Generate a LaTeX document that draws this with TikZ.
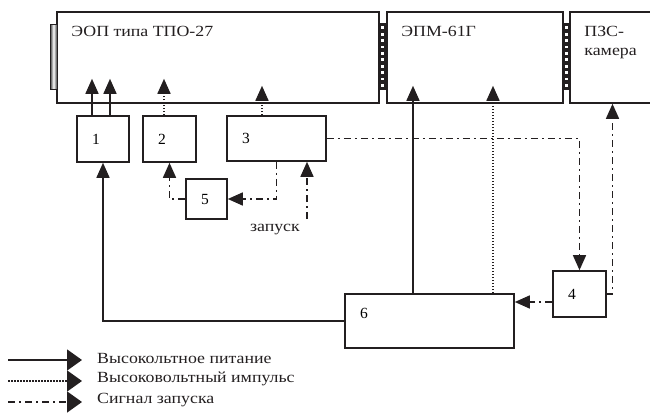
\documentclass[tikz,border=0pt]{standalone}
\usepackage{fontspec}
\setmainfont{Liberation Serif}
\usepackage{tikz}
\usetikzlibrary{arrows.meta,positioning,calc}
\definecolor{Ink}{RGB}{35,31,32}
\definecolor{WinD}{RGB}{60,60,60}

\begin{document}
\begin{tikzpicture}[x=1pt,y=-1pt,
    blk/.style={draw=Ink,line width=1.6pt,inner xsep=15pt,inner ysep=0pt,align=left},
    txt/.style={inner sep=0pt,text=Ink,xscale=1.15},
    pwr/.style={draw=Ink,line width=1.5pt},
    pls/.style={draw=Ink,line width=1.7pt,dash pattern=on 1.5pt off 1.5pt},
    sig/.style={draw=Ink,line width=1.5pt,dash pattern=on 7pt off 4pt on 2pt off 4pt},
    tip/.style={-{Triangle[length=15pt,width=13pt]}},
    font=\fontsize{15.5}{19}\selectfont]
    \useasboundingbox (0,0) rectangle (650,414);
    % camera chain
    \node[blk,minimum width=322pt,minimum height=91pt] (eop) at (218,57.5) {};
    \node[blk,minimum width=176pt,minimum height=91pt] (epm) at (475,57.5) {};
    \node[blk,minimum width=85pt,minimum height=91pt] (pzs) at (612.5,57.5) {};
    \node[txt,anchor=north west] (eoplbl) at ([xshift=15pt,yshift=-15pt]eop.north west) {ЭОП типа ТПО-27};
    \node[txt,anchor=north west] (epmlbl) at ([xshift=15pt,yshift=-15pt]epm.north west) {ЭПМ-61Г};
    \node[txt,anchor=north west,align=left] (pzslbl) at ([xshift=15pt,yshift=-15pt]pzs.north west) {ПЗС-\\камера};
    \shade[left color=WinD,right color=WinD,middle color=white,draw=Ink,line width=1pt] (50,25) rectangle (57,90);
    \foreach \s in {379,563}{
      \fill[Ink] (\s,23) rectangle (\s+7,90);
      \foreach \k in {0,...,9}
        \fill[white] (\s+1.8,26.5+\k*6.4) rectangle (\s+5.2,29.3+\k*6.4);
    }
    % units
    \foreach \n/\x/\y/\w/\h/\td in {1/103/139/52/46/0, 2/169.5/139/53/46/0, 3/276.5/138.5/99/45/0,
      4/579.5/294/53/46/0, 5/206.5/199/41/40/0, 6/429.5/321/169/54/16}{
      \pgfmathsetmacro{\tw}{\w-30}
      \node[blk,minimum width=\w pt,minimum height=\h pt,text width=\tw pt,text depth=\td pt] (b\n) at (\x,\y) {\n};
    }
    \coordinate (zap) at (307,219);
    \node[txt,below left=5pt and 7pt of zap] (zaplbl) {запуск};
    % high voltage supply
    \draw[pwr,tip,shorten >=-25pt] ([xshift=-11pt]b1.north) -- ([xshift=-11pt]b1.north |- eop.south);
    \draw[pwr,tip,shorten >=-25pt] ([xshift=7pt]b1.north) -- ([xshift=7pt]b1.north |- eop.south);
    \draw[pwr,tip,shorten >=-18pt] ([xshift=-16.5pt]b6.north) -- ([xshift=-16.5pt]b6.north |- epm.south);
    \draw[pwr,tip] (b6.west) -| (b1.south);
    % pulses
    \draw[pls,tip,shorten >=-25pt] ([xshift=-5.5pt]b2.north) -- ([xshift=-5.5pt]b2.north |- eop.south);
    \draw[pls,tip,shorten >=-18pt] ([xshift=-14.5pt]b3.north) -- ([xshift=-14.5pt]b3.north |- eop.south);
    \draw[pls,tip,shorten >=-18pt] ([xshift=63.5pt]b6.north) -- ([xshift=63.5pt]b6.north |- epm.south);
    % trigger
    \draw[sig,tip] (zap) -- (zap |- b3.south);
    \draw[sig,tip] (b3.south) |- (b5.east);
    \draw[sig,tip] (b5.west) -| (b2.south);
    \draw[sig,tip] (b3.east) -| (b4.north);
    \draw[sig,tip] (b4.east) -| (pzs.south);
    \draw[sig,tip] ([yshift=-8pt]b4.west) -- ([yshift=-8pt]b4.west -| b6.east);
    % legend
    \foreach \k/\s/\y/\t in {1/pwr/360/{Высокольтное питание},
      2/pls/381/{Высоковольтный импульс}, 3/sig/402/{Сигнал запуска}}{
      \coordinate (la\k) at (8,\y);
      \coordinate (lb\k) at (82,\y);
      \draw[\s,-{Triangle[length=15pt,width=21pt]}] (la\k) -- (lb\k);
      \node[txt,anchor=west] (lt\k) at (97,\y-2) {\t};
    }
\end{tikzpicture}
\end{document}
